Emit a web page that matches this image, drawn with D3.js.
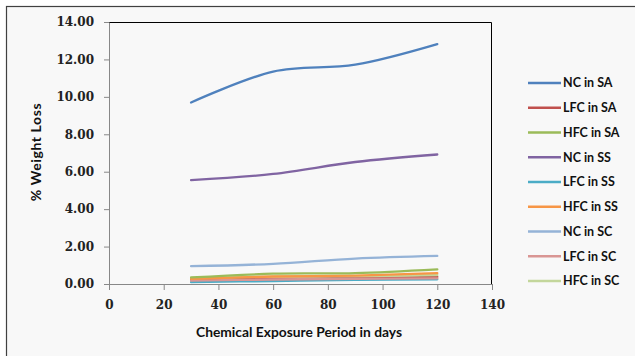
<!DOCTYPE html>
<html>
<head>
<meta charset="utf-8">
<script src="https://cdn.jsdelivr.net/npm/d3@7"></script>
<style>
  body { margin: 0; background: #fff; }
  svg { display: block; }
</style>
</head>
<body>
<svg id="chart" width="635" height="356"></svg>
<script>
// Exposure periods (days)
const days = [30, 60, 90, 120];

// % weight loss per series
const seriesNames = ['NC in SA', 'LFC in SA', 'HFC in SA', 'NC in SS', 'LFC in SS',
  'HFC in SS', 'NC in SC', 'LFC in SC', 'HFC in SC'];
const ncSA = [9.70, 11.35, 11.72, 12.82];
const lfcSA = [0.22, 0.28, 0.32, 0.38];
const hfcSA = [0.35, 0.55, 0.58, 0.78];
const ncSS = [5.55, 5.88, 6.52, 6.92];
const lfcSS = [0.10, 0.16, 0.22, 0.25];
const hfcSS = [0.28, 0.40, 0.45, 0.58];
const ncSC = [0.95, 1.08, 1.36, 1.50];
const lfcSC = [0.18, 0.24, 0.28, 0.30];
const hfcSC = [0.30, 0.40, 0.42, 0.48];
const seriesValues = [ncSA, lfcSA, hfcSA, ncSS, lfcSS, hfcSS, ncSC, lfcSC, hfcSC];
const colors = ['#4F81BD', '#C0504D', '#9BBB59', '#8064A2', '#4BACC6',
  '#F79646', '#95B3D7', '#D99694', '#C3D69B'];

const xTicks = [0, 20, 40, 60, 80, 100, 120, 140];
const yTicks = [0, 2, 4, 6, 8, 10, 12, 14];

const svg = d3.select('#chart');
const margin = { left: 109, top: 22, right: 143, bottom: 72 };
const width = 635 - margin.left - margin.right;   // 383
const height = 356 - margin.top - margin.bottom;  // 262

// chart background + outer border
svg.append('rect')
  .attr('x', 6.5).attr('y', 6.5)
  .attr('width', 640).attr('height', 360)
  .style('fill', '#f8f8f8')
  .style('stroke', '#404040')
  .style('stroke-width', 1.2);

const x = d3.scaleLinear().domain([0, 140]).range([0, width]);
const y = d3.scaleLinear().domain([0, 14]).range([height, 0]);

const g = svg.append('g')
  .attr('transform', `translate(${margin.left}, ${margin.top})`);

// plot area frame (top + right)
g.append('path')
  .attr('d', `M0,0.5H${width - 0.5}V${height}`)
  .style('fill', 'none')
  .style('stroke', '#000')
  .style('stroke-width', 1);

const tickFont = '"DejaVu Serif", "Liberation Serif", serif';

const xAxis = g.append('g').attr('class', 'axis--x')
  .attr('transform', `translate(0, ${height})`)
  .call(d3.axisBottom(x).tickValues(xTicks).tickSize(6).tickSizeOuter(0).tickPadding(10));

const yAxis = g.append('g').attr('class', 'axis--y')
  .call(d3.axisLeft(y).tickValues(yTicks).tickFormat(d3.format('.2f'))
    .tickSize(5).tickSizeOuter(0).tickPadding(10));

[xAxis, yAxis].forEach(a => {
  a.select('.domain').style('stroke', '#888');
  a.selectAll('.tick line').style('stroke', '#888');
  a.selectAll('.tick text')
    .style('font-family', tickFont)
    .style('font-weight', 'bold')
    .style('font-size', '12px')
    .style('fill', '#222');
});

// lines
const line = d3.line()
  .curve(d3.curveCardinal.tension(0))
  .x((d, i) => x(days[i]))
  .y(d => y(d));

// draw small series first so big ones sit on top
const order = [1, 4, 7, 8, 5, 2, 6, 3, 0];
g.append('g').attr('class', 'lines')
  .selectAll('path')
  .data(order)
  .join('path')
  .attr('d', i => line(seriesValues[i]))
  .style('fill', 'none')
  .style('stroke', i => colors[i])
  .style('stroke-width', 2.3)
  .style('stroke-linecap', 'round');

// axis titles
const labelFont = 'Lato, "Open Sans", sans-serif';
svg.append('text')
  .attr('x', 299)
  .attr('y', 337)
  .attr('text-anchor', 'middle')
  .style('font-family', labelFont)
  .style('font-weight', 'bold')
  .style('font-size', '13.8px')
  .style('fill', '#111')
  .text('Chemical Exposure Period in days');

svg.append('text')
  .attr('transform', 'translate(41, 152) rotate(-90)')
  .attr('text-anchor', 'middle')
  .style('font-family', labelFont)
  .style('font-weight', 'bold')
  .style('font-size', '14px')
  .style('letter-spacing', '0.6px')
  .style('fill', '#111')
  .text('% Weight Loss');

// legend
const legend = svg.append('g').attr('class', 'legend')
  .attr('transform', 'translate(528, 83)');

const item = legend.selectAll('g')
  .data(seriesNames)
  .join('g')
  .attr('transform', (d, i) => `translate(0, ${i * 24.75})`);

item.append('line')
  .attr('x1', 0).attr('x2', 33)
  .style('stroke', (d, i) => colors[i])
  .style('stroke-width', 2.3);

item.append('text')
  .attr('x', 35)
  .attr('dy', '0.35em')
  .style('font-family', labelFont)
  .style('font-weight', 'bold')
  .style('font-size', '12.5px')
  .style('fill', '#111')
  .text(d => d);
</script>
</body>
</html>
